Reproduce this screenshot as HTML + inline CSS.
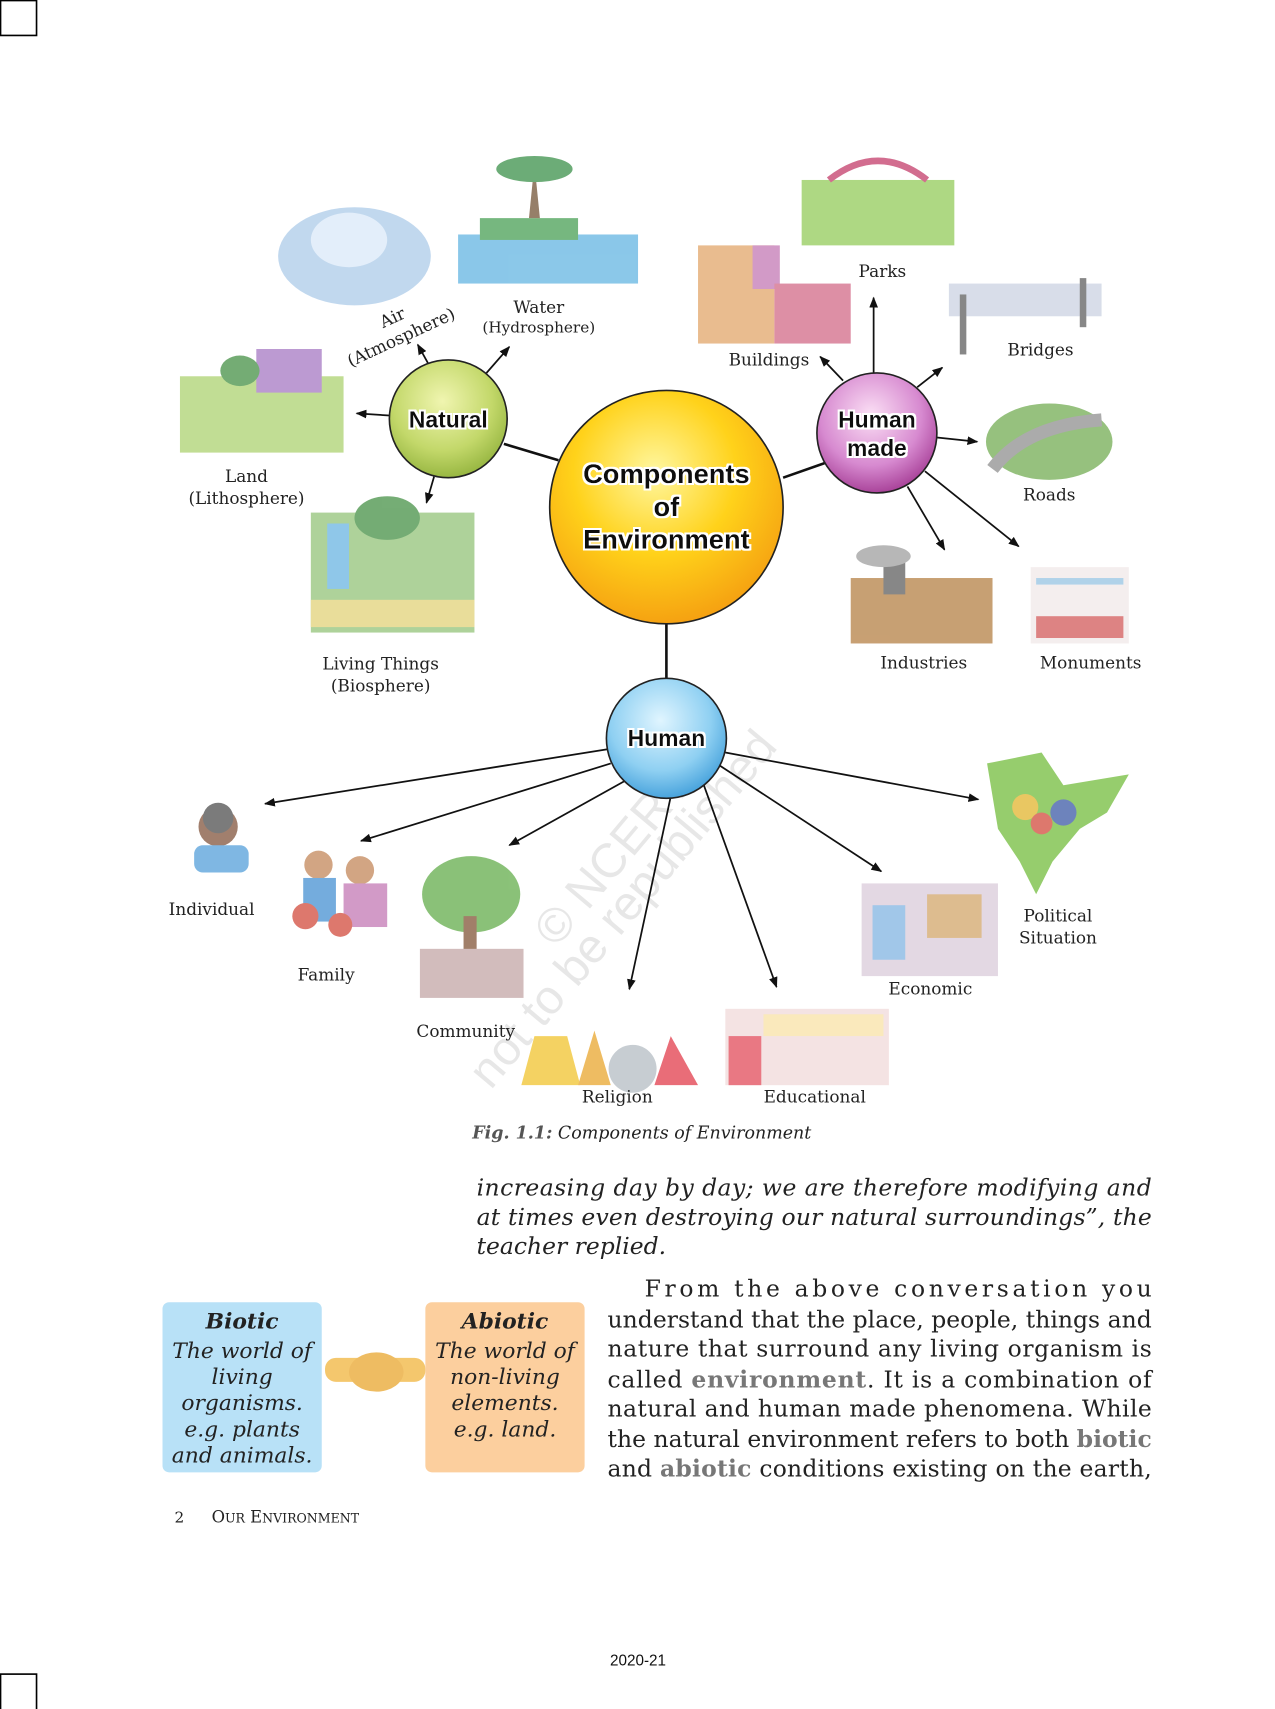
<!DOCTYPE html>
<html><head><meta charset="utf-8"><style>
html,body{margin:0;padding:0;background:#fff;}
svg{display:block;}
.s{font-family:"DejaVu Serif","Liberation Serif",serif;fill:#222;}
.b{font-family:"Liberation Sans",sans-serif;font-weight:bold;fill:#111;}
</style></head><body>
<svg width="1275" height="1709" viewBox="0 0 1169 1567" preserveAspectRatio="none" xmlns="http://www.w3.org/2000/svg">
<defs>
<radialGradient id="gY" cx="45%" cy="35%" r="70%"><stop offset="0" stop-color="#fff7a0"/><stop offset="0.5" stop-color="#ffd21a"/><stop offset="1" stop-color="#f49a10"/></radialGradient>
<radialGradient id="gG" cx="45%" cy="35%" r="70%"><stop offset="0" stop-color="#f0f5b0"/><stop offset="0.6" stop-color="#c3d86a"/><stop offset="1" stop-color="#8fb03a"/></radialGradient>
<radialGradient id="gP" cx="45%" cy="35%" r="70%"><stop offset="0" stop-color="#fbe0f5"/><stop offset="0.6" stop-color="#d78ad0"/><stop offset="1" stop-color="#a0358f"/></radialGradient>
<radialGradient id="gB" cx="45%" cy="35%" r="70%"><stop offset="0" stop-color="#e0f5ff"/><stop offset="0.6" stop-color="#8fd0f2"/><stop offset="1" stop-color="#3a9ad8"/></radialGradient>
<marker id="ar" markerWidth="10" markerHeight="8" refX="9" refY="4" orient="auto" markerUnits="userSpaceOnUse"><path d="M0,0 L10,4 L0,8 Z" fill="#111"/></marker>
<filter id="gl"><feMorphology operator="dilate" radius="2" in="SourceAlpha" result="d"/><feFlood flood-color="#fff"/><feComposite in2="d" operator="in" result="w"/><feMerge><feMergeNode in="w"/><feMergeNode in="SourceGraphic"/></feMerge></filter>
</defs>
<rect x="0.5" y="0.5" width="33" height="32" fill="none" stroke="#000" stroke-width="1.5"/>
<rect x="0.5" y="1535" width="33" height="33" fill="none" stroke="#000" stroke-width="1.5"/>

<g opacity="0.7">
<ellipse cx="325" cy="235" rx="70" ry="45" fill="#a8c8e8"/><ellipse cx="320" cy="220" rx="35" ry="25" fill="#d8e8f8"/>
<rect x="420" y="215" width="165" height="45" fill="#5ab0e0"/><rect x="440" y="200" width="90" height="20" fill="#3d9a4a"/><path d="M485 200 L490 150 L495 200Z" fill="#6b4a2a"/><ellipse cx="490" cy="155" rx="35" ry="12" fill="#2e8a3e"/>
<rect x="165" y="345" width="150" height="70" fill="#a8d068"/><rect x="235" y="320" width="60" height="40" fill="#a070c0"/><ellipse cx="220" cy="340" rx="18" ry="14" fill="#3a8a3a"/>
<rect x="285" y="470" width="150" height="110" fill="#8cc070"/><rect x="300" y="480" width="20" height="60" fill="#60b0e0"/><rect x="285" y="550" width="150" height="25" fill="#e0d070"/><ellipse cx="355" cy="475" rx="30" ry="20" fill="#3a8a3a"/>
<rect x="735" y="165" width="140" height="60" fill="#8cc850"/><path d="M760 165 Q805 130 850 165" fill="none" stroke="#c03060" stroke-width="6"/>
<rect x="640" y="225" width="70" height="90" fill="#e0a060"/><rect x="690" y="225" width="25" height="40" fill="#c070b0"/><rect x="710" y="260" width="70" height="55" fill="#d06080"/>
<rect x="870" y="260" width="140" height="30" fill="#c8d0e0"/><rect x="880" y="270" width="6" height="55" fill="#555"/><rect x="990" y="255" width="6" height="45" fill="#555"/>
<ellipse cx="962" cy="405" rx="58" ry="35" fill="#6aa848"/><path d="M910 430 Q940 390 1010 385" stroke="#888" stroke-width="12" fill="none"/>
<rect x="780" y="530" width="130" height="60" fill="#b07838"/><rect x="810" y="505" width="20" height="40" fill="#555"/><ellipse cx="810" cy="510" rx="25" ry="10" fill="#999"/>
<rect x="945" y="520" width="90" height="70" fill="#f0e8e8"/><rect x="950" y="565" width="80" height="20" fill="#d05050"/><rect x="950" y="530" width="80" height="6" fill="#90c0e0"/>
<circle cx="200" cy="758" r="18" fill="#7a4a30"/><circle cx="200" cy="750" r="14" fill="#444"/><rect x="178" y="775" width="50" height="25" rx="8" fill="#4a9ad8"/>
<circle cx="292" cy="793" r="13" fill="#c08050"/><rect x="278" y="805" width="30" height="40" fill="#3a8ad0"/><circle cx="330" cy="798" r="13" fill="#c08050"/><rect x="315" y="810" width="40" height="40" fill="#c070b0"/><circle cx="280" cy="840" r="12" fill="#d04030"/><circle cx="312" cy="848" r="11" fill="#d04030"/>
<ellipse cx="432" cy="820" rx="45" ry="35" fill="#5aa840"/><rect x="425" y="840" width="12" height="50" fill="#7a4a2a"/><rect x="385" y="870" width="95" height="45" fill="#c0a0a0"/>
<path d="M478 995 L490 950 L520 950 L532 995Z" fill="#f0c020"/><path d="M530 995 L545 945 L560 995Z" fill="#e8a020"/><ellipse cx="580" cy="980" rx="22" ry="22" fill="#b0b8c0"/><path d="M600 995 L615 950 L640 995Z" fill="#e03040"/>
<rect x="665" y="925" width="150" height="70" fill="#f0d8d8"/><rect x="668" y="950" width="30" height="45" fill="#e04050"/><rect x="700" y="930" width="110" height="20" fill="#f8e0a0"/>
<rect x="790" y="810" width="125" height="85" fill="#d8c8d8"/><rect x="800" y="830" width="30" height="50" fill="#7ab0e0"/><rect x="850" y="820" width="50" height="40" fill="#d0a060"/>
<path d="M905 700 L955 690 L975 720 L1035 710 L1015 745 L990 760 L965 790 L950 820 L935 790 L915 760 Z" fill="#6ab830"/><circle cx="940" cy="740" r="12" fill="#e0b020"/><circle cx="975" cy="745" r="12" fill="#3050a0"/><circle cx="955" cy="755" r="10" fill="#d04030"/>
<rect x="298" y="1245" width="92" height="22" rx="10" fill="#f0b030"/><ellipse cx="345" cy="1258" rx="25" ry="18" fill="#e8a020"/>
</g>

<g opacity="0.35" font-family="Liberation Sans,sans-serif" font-size="44" fill="#bbb">
<text transform="translate(510,870) rotate(-50)">© NCERT</text>
<text transform="translate(450,1000) rotate(-50)">not to be republished</text>
</g>

<g stroke="#111" stroke-width="2.4" fill="none">
<line x1="462" y1="407" x2="512" y2="422"/>
<line x1="718" y1="438" x2="758" y2="424"/>
<line x1="611" y1="572" x2="611" y2="623"/>
</g>
<g stroke="#111" stroke-width="1.6" fill="none" marker-end="url(#ar)">
<line x1="393" y1="334" x2="383" y2="316"/>
<line x1="446" y1="342" x2="467" y2="318"/>
<line x1="357" y1="381" x2="327" y2="379"/>
<line x1="398" y1="437" x2="391" y2="461"/>
<line x1="773" y1="349" x2="752" y2="327"/>
<line x1="801" y1="342" x2="801" y2="273"/>
<line x1="841" y1="355" x2="864" y2="337"/>
<line x1="858" y1="401" x2="896" y2="405"/>
<line x1="832" y1="446" x2="866" y2="504"/>
<line x1="848" y1="432" x2="934" y2="501"/>
<line x1="557" y1="687" x2="243" y2="737"/>
<line x1="560" y1="700" x2="331" y2="771"/>
<line x1="573" y1="716" x2="467" y2="775"/>
<line x1="617" y1="721" x2="577" y2="907"/>
<line x1="645" y1="719" x2="712" y2="905"/>
<line x1="660" y1="702" x2="808" y2="799"/>
<line x1="665" y1="690" x2="897" y2="733"/>
</g>

<circle cx="611" cy="465" r="107" fill="url(#gY)" stroke="#222" stroke-width="1.5"/>
<circle cx="411" cy="384" r="54" fill="url(#gG)" stroke="#222" stroke-width="1.5"/>
<circle cx="804" cy="397" r="55" fill="url(#gP)" stroke="#222" stroke-width="1.5"/>
<circle cx="611" cy="677" r="55" fill="url(#gB)" stroke="#222" stroke-width="1.5"/>
<g class="b" text-anchor="middle" filter="url(#gl)">
<text x="611" y="443" font-size="25">Components</text>
<text x="611" y="473" font-size="25">of</text>
<text x="611" y="503" font-size="25">Environment</text>
<text x="411" y="392" font-size="21">Natural</text>
<text x="804" y="392" font-size="21">Human</text>
<text x="804" y="418" font-size="21">made</text>
<text x="611" y="684" font-size="21">Human</text>
</g>

<g class="s" text-anchor="middle" font-size="15.5">
<text x="494" y="287">Water</text>
<text x="494" y="305" font-size="14">(Hydrosphere)</text>
<text transform="translate(362,296) rotate(-25)">Air</text>
<text transform="translate(370,314) rotate(-25)">(Atmosphere)</text>
<text x="226" y="442">Land</text>
<text x="226" y="462">(Lithosphere)</text>
<text x="349" y="614">Living Things</text>
<text x="349" y="634">(Biosphere)</text>
<text x="809" y="254">Parks</text>
<text x="705" y="335">Buildings</text>
<text x="954" y="326">Bridges</text>
<text x="962" y="459">Roads</text>
<text x="847" y="613">Industries</text>
<text x="1000" y="613">Monuments</text>
<text x="194" y="839">Individual</text>
<text x="299" y="899">Family</text>
<text x="427" y="951">Community</text>
<text x="566" y="1011">Religion</text>
<text x="747" y="1011">Educational</text>
<text x="853" y="912">Economic</text>
<text x="970" y="845">Political</text>
<text x="970" y="865">Situation</text>
</g>

<text class="s" x="433" y="1044" font-size="16" font-style="italic" fill="#333"><tspan font-weight="bold" fill="#555">Fig. 1.1:</tspan> Components of Environment</text>

<g class="s" font-size="21.5" font-style="italic">
<text x="437" y="1096" textLength="619" lengthAdjust="spacing">increasing day by day; we are therefore modifying and</text>
<text x="437" y="1123" textLength="619" lengthAdjust="spacing">at times even destroying our natural surroundings”, the</text>
<text x="437" y="1150">teacher replied.</text>
</g>

<rect x="149" y="1194" width="146" height="156" rx="6" fill="#b8e1f7"/>
<rect x="390" y="1194" width="146" height="156" rx="6" fill="#fccf9e"/>
<g class="s" font-size="20" font-style="italic" text-anchor="middle">
<text x="222" y="1218" font-weight="bold">Biotic</text>
<text x="222" y="1245">The world of</text>
<text x="222" y="1269">living</text>
<text x="222" y="1293">organisms.</text>
<text x="222" y="1317">e.g. plants</text>
<text x="222" y="1341">and animals.</text>
<text x="463" y="1218" font-weight="bold">Abiotic</text>
<text x="463" y="1245">The world of</text>
<text x="463" y="1269">non-living</text>
<text x="463" y="1293">elements.</text>
<text x="463" y="1317">e.g. land.</text>
</g>

<g class="s" font-size="21.5">
<text x="591" y="1189" textLength="465" lengthAdjust="spacing">From the above conversation you</text>
<text x="557" y="1217" textLength="499" lengthAdjust="spacing">understand that the place, people, things and</text>
<text x="557" y="1244" textLength="499" lengthAdjust="spacing">nature that surround any living organism is</text>
<text x="557" y="1272" textLength="499" lengthAdjust="spacing">called <tspan font-weight="bold" fill="#777">environment</tspan>. It is a combination of</text>
<text x="557" y="1299" textLength="499" lengthAdjust="spacing">natural and human made phenomena. While</text>
<text x="557" y="1327" textLength="499" lengthAdjust="spacing">the natural environment refers to both <tspan font-weight="bold" fill="#777">biotic</tspan></text>
<text x="557" y="1354" textLength="499" lengthAdjust="spacing">and <tspan font-weight="bold" fill="#777">abiotic</tspan> conditions existing on the earth,</text>
</g>

<text class="s" x="160" y="1396" font-size="14">2</text>
<text class="s" x="194" y="1396" font-size="15">O<tspan font-size="11.5">UR</tspan> E<tspan font-size="11.5">NVIRONMENT</tspan></text>
<text x="585" y="1527" font-family="Liberation Sans,sans-serif" font-size="14" text-anchor="middle" fill="#111">2020-21</text>
</svg>
</body></html>
